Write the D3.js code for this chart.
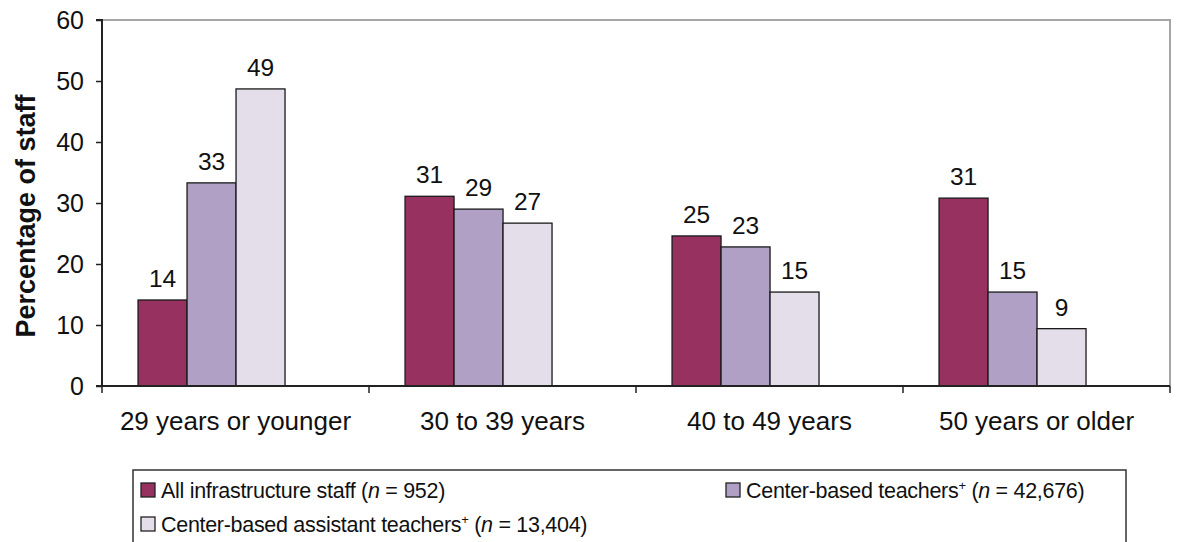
<!DOCTYPE html>
<html>
<head>
<meta charset="utf-8">
<script src="https://cdn.jsdelivr.net/npm/d3@7"></script>
<style>
  html, body { margin: 0; padding: 0; background: #fff; }
  svg { display: block; font-family: "Liberation Sans", Arial, sans-serif; }
</style>
</head>
<body>
<svg id="chart" width="1178" height="542"></svg>
<script>
const categories = ["29 years or younger", "30 to 39 years", "40 to 49 years", "50 years or older"];
const seriesNames = ["All infrastructure staff", "Center-based teachers", "Center-based assistant teachers"];
const seriesN = ["952", "42,676", "13,404"];
const seriesSup = [false, true, true];
const allInfrastructure = [14.1, 31.1, 24.6, 30.8];
const centerTeachers = [33.3, 29.0, 22.8, 15.4];
const centerAssistants = [48.7, 26.7, 15.4, 9.4];
const valueLabels = [[14, 31, 25, 31], [33, 29, 23, 15], [49, 27, 15, 9]];
const yTicks = [0, 10, 20, 30, 40, 50, 60];
const colors = ["#963160", "#B0A0C6", "#E3DEEA"];

const series = [allInfrastructure, centerTeachers, centerAssistants];
const svg = d3.select("#chart");

const plot = { left: 102, right: 1170, top: 20, bottom: 386 };
const x = d3.scaleBand().domain(categories).range([plot.left, plot.right]).padding(0);
const y = d3.scaleLinear().domain([0, 60]).range([plot.bottom, plot.top]);
const bw = x.bandwidth();
const barW = bw * 0.1835;
const groupOffset = bw * 0.135;

// plot border (top and right, gray)
svg.append("path")
  .attr("d", `M${plot.left},${plot.top}H${plot.right}V${plot.bottom}`)
  .attr("fill", "none").attr("stroke", "#a6a6a6").attr("stroke-width", 2);

// bars
series.forEach((vals, si) => {
  const g = svg.append("g");
  g.selectAll("rect").data(vals).join("rect")
    .attr("x", (d, i) => x(categories[i]) + groupOffset + si * barW)
    .attr("y", d => y(d))
    .attr("width", barW)
    .attr("height", d => y(0) - y(d))
    .attr("fill", colors[si])
    .attr("stroke", "#1a1a1a").attr("stroke-width", 1.3);
  g.selectAll("text").data(vals).join("text")
    .attr("x", (d, i) => x(categories[i]) + groupOffset + si * barW + barW / 2)
    .attr("y", d => y(d) - 13)
    .attr("text-anchor", "middle")
    .attr("font-size", 24.5).attr("fill", "#111")
    .text((d, i) => valueLabels[si][i]);
});

// y axis
const yAxis = d3.axisLeft(y).tickValues(yTicks).tickSize(6).tickPadding(12);
const ya = svg.append("g").attr("transform", `translate(${plot.left},0)`).call(yAxis);
ya.select(".domain").attr("stroke", "#222").attr("stroke-width", 2).attr("d", `M-6,${plot.top}H0V${plot.bottom}`);
ya.selectAll(".tick line").attr("stroke", "#222").attr("stroke-width", 1.5);
ya.selectAll(".tick text").attr("font-size", 25).attr("fill", "#111").attr("font-family", "Liberation Sans, Arial, sans-serif");

// x axis
const xAxis = d3.axisBottom(x).tickSize(0).tickPadding(0);
const xa = svg.append("g").attr("transform", `translate(0,${plot.bottom})`).call(xAxis);
xa.select(".domain").attr("stroke", "#222").attr("stroke-width", 2).attr("d", `M${plot.left - 6},0H${plot.right}`);
xa.selectAll(".tick text").attr("font-size", 26).attr("fill", "#111").attr("dy", null).attr("y", 44)
  .attr("font-family", "Liberation Sans, Arial, sans-serif");
// category boundary ticks
const bounds = categories.map(c => x(c)).concat([plot.right]);
svg.append("g").selectAll("line").data(bounds).join("line")
  .attr("x1", d => d).attr("x2", d => d)
  .attr("y1", plot.bottom).attr("y2", plot.bottom + 7)
  .attr("stroke", "#222").attr("stroke-width", 1.5);

// y title
svg.append("text")
  .attr("transform", `translate(35,216) rotate(-90)`)
  .attr("text-anchor", "middle")
  .attr("font-size", 27).attr("font-weight", "bold").attr("fill", "#111")
  .text("Percentage of staff");

// legend
const lg = svg.append("g");
lg.append("rect").attr("x", 133).attr("y", 470).attr("width", 993).attr("height", 100)
  .attr("fill", "#fff").attr("stroke", "#333").attr("stroke-width", 1.5);
const legendPos = [[141, 490], [726, 490], [141, 524]];
seriesNames.forEach((name, i) => {
  const [lx, ly] = legendPos[i];
  lg.append("rect").attr("x", lx).attr("y", ly - 7).attr("width", 14).attr("height", 14)
    .attr("fill", colors[i]).attr("stroke", "#222").attr("stroke-width", 1.3);
  const t = lg.append("text").attr("x", lx + 20).attr("y", ly + 8)
    .attr("font-size", 21.5).attr("fill", "#111").attr("letter-spacing", "-0.3");
  t.append("tspan").text(name);
  if (seriesSup[i]) t.append("tspan").attr("font-size", 13).attr("dy", -8).text("+");
  t.append("tspan").attr("dy", seriesSup[i] ? 8 : 0).text(" (");
  t.append("tspan").attr("font-style", "italic").text("n");
  t.append("tspan").text(" = " + seriesN[i] + ")");
});
</script>
</body>
</html>
